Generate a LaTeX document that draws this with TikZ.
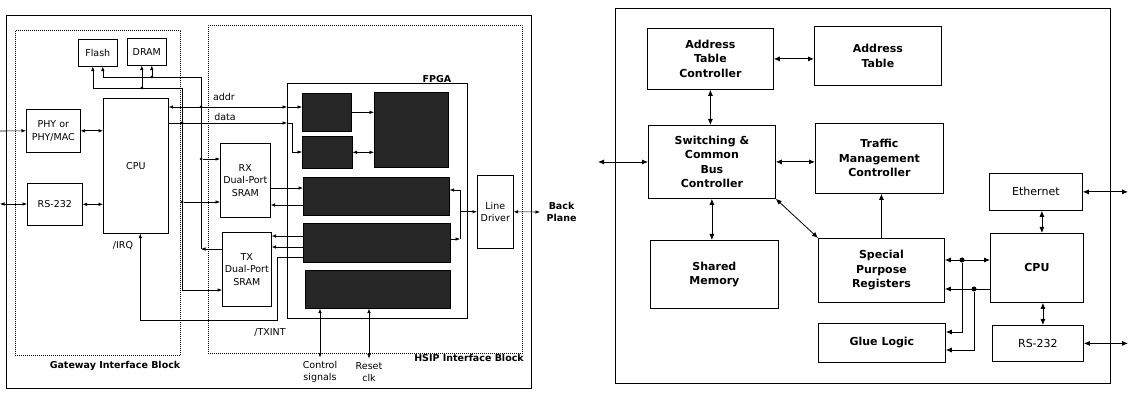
\documentclass[tikz,border=0pt]{standalone}
\usepackage{fontspec}
\setmainfont{DejaVu Sans}
\usetikzlibrary{arrows.meta}

\begin{document}
\begin{tikzpicture}[x=1pt, y=-1pt, line width=0.6pt,
        >={Latex[length=4.5pt,width=3.5pt]},
        frame/.style={draw, rectangle, anchor=north west, inner sep=0pt},
        dotframe/.style={frame, dash pattern=on 0.8pt off 1.2pt},
        box/.style={frame, align=center, font=\fontsize{9.5}{12.5}\selectfont},
        chip/.style={frame, fill=black!85},
        lbl/.style={align=center, font=\fontsize{9.5}{12.5}\selectfont},
        blbl/.style={align=center, font=\fontsize{9.5}{12.5}\selectfont\bfseries},
        bbox/.style={frame, align=center, line width=0.8pt, font=\fontsize{11}{14.5}\selectfont\bfseries},
        pbox/.style={bbox, font=\fontsize{11}{14.5}\selectfont},
        dot/.style={circle, fill, inner sep=0pt, minimum size=3pt}]
      \useasboundingbox (0,0) rectangle (1135,395);

      % Left board
      \node[frame, minimum width=525pt, minimum height=373pt] (boardL) at (6,15) {};
      \node[dotframe, minimum width=165pt, minimum height=325pt] (gw) at (15,30) {};
      \node[dotframe, minimum width=314pt, minimum height=328pt] (hsip) at (208,25) {};
      \node[blbl] (gwlbl) at (115,366) {Gateway Interface Block};
      \node[blbl] (hsiplbl) at (469,358) {HSIP Interface Block};

      % Gateway side
      \node[box, minimum width=39pt, minimum height=27pt] (flash) at (78,39) {Flash};
      \node[box, minimum width=39pt, minimum height=27pt] (dram) at (127,38) {DRAM};
      \node[box, minimum width=54pt, minimum height=43pt] (phy) at (26,109) {PHY or\\PHY/MAC};
      \node[box, minimum width=65pt, minimum height=135pt] (cpuL) at (103,98) {CPU};
      \node[box, minimum width=55pt, minimum height=42pt] (rsL) at (27,183) {RS-232};
      \node[lbl] (irq) at (123,246) {/IRQ};

      % HSIP side
      \node[box, minimum width=50pt, minimum height=74pt] (rx) at (220,143) {RX\\Dual-Port\\SRAM};
      \node[box, minimum width=49pt, minimum height=74pt] (tx) at (222,232) {TX\\Dual-Port\\SRAM};
      \node[frame, minimum width=180pt, minimum height=235pt] (fpga) at (287,83) {};
      \node[blbl, anchor=south] (fpgalbl) at (437,86) {FPGA};
      \node[chip, minimum width=49pt, minimum height=38pt] (blk1) at (302,93) {};
      \node[chip, minimum width=50pt, minimum height=32pt] (blk2) at (302,136) {};
      \node[chip, minimum width=74pt, minimum height=75pt] (big) at (374,92) {};
      \node[chip, minimum width=146pt, minimum height=38pt] (blkA) at (303,177) {};
      \node[chip, minimum width=147pt, minimum height=39pt] (blkB) at (303,223) {};
      \node[chip, minimum width=145pt, minimum height=38pt] (blkC) at (305,270) {};
      \node[box, minimum width=36pt, minimum height=73pt] (drv) at (477,175) {Line\\Driver};
      \node[blbl, anchor=west] (bp) at (543,212) {Back\\Plane};
      \node[lbl] (ctrl) at (320,372) {Control\\signals};
      \node[lbl] (rst) at (369,372) {Reset\\clk};
      \node[lbl] (addr) at (224,97) {addr};
      \node[lbl] (data) at (225,117) {data};
      \node[lbl] (txint) at (270,332) {/TXINT};

      \coordinate (phyIn) at (0,131);
      \coordinate (rsIn) at (0,204);
      \coordinate (busAtop) at (201,77);
      \coordinate (busAbot) at (201,249);
      \coordinate (busBtop) at (182,88);
      \coordinate (busBbot) at (182,290);
      \coordinate (fL) at ([xshift=-5pt]flash.south);
      \coordinate (fR) at ([xshift=5pt]flash.south);
      \coordinate (dL) at ([xshift=-5pt]dram.south);
      \coordinate (dR) at ([xshift=5pt]dram.south);
      \coordinate (addrY) at (0,107);
      \coordinate (dataY) at (0,123);
      \coordinate (dataBend) at (292,152);
      \coordinate (rxA) at (0,159);
      \coordinate (rxB) at (0,202);
      \coordinate (rxOut) at (0,188);
      \coordinate (rxIn) at (0,205);
      \coordinate (txA) at (0,236);
      \coordinate (txB) at (0,247);
      \coordinate (txintY) at (0,257);
      \coordinate (txintC) at (277,320);
      \coordinate (irqIn) at ([xshift=4.5pt]cpuL.south);
      \coordinate (ldTop) at (460,190);
      \coordinate (ldBot) at (460,239);
      \coordinate (bpEnd) at (540,212);

      % Gateway links
      \draw[->] (phyIn) -- (phy.west);
      \draw[<->] (rsIn) -- (rsIn -| rsL.west);
      \draw[<->] (phy.east) -- (phy.east -| cpuL.west);
      \draw[<->] (rsL.east) -- (rsL.east -| cpuL.west);
      \draw[->] (busAtop) -| (fR);
      \draw[->] (busAtop -| dR) -- (dR);
      \draw[->] (busBtop) -| (fL);
      \draw[->] (busBtop -| dL) -- (dL);
      \draw (busAtop) -- (busAbot);
      \draw (busBtop) -- (busBbot);
      \node[dot] (jdR) at (busAtop -| dR) {};
      \node[dot] (jdL) at (busBtop -| dL) {};
      \node[dot] (jaddr) at (busAtop |- addrY) {};
      \node[dot] (jdata) at (busBtop |- dataY) {};
      \node[dot] (jrxA) at (busAtop |- rxA) {};
      \node[dot] (jrxB) at (busBtop |- rxB) {};
      \draw[->] (jrxA) -- (rx.west |- rxA);
      \draw[->] (jrxB) -- (rx.west |- rxB);
      \draw[<-] (busAbot) -- (tx.west |- busAbot);
      \draw[->] (busBbot) -- (tx.west |- busBbot);

      % CPU to FPGA
      \draw[<->] (cpuL.east |- addrY) -- (fpga.west |- addrY);
      \draw[->] (fpga.west |- addrY) -- (blk1.west |- addrY);
      \draw[->] (cpuL.east |- dataY) -- (fpga.west |- dataY);
      \draw[->] (fpga.west |- dataY) -| (dataBend) -- (blk2.west |- dataBend);
      \draw[->] (blk1.east) -- (blk1.east -| big.west);
      \draw[<->] (blk2.east) -- (blk2.east -| big.west);

      % SRAMs
      \draw[->] (rx.east |- rxOut) -- (blkA.west |- rxOut);
      \draw[<-] (rx.east |- rxIn) -- (blkA.west |- rxIn);
      \draw[->] (blkB.west |- txA) -- (tx.east |- txA);
      \draw[->] (blkB.west |- txB) -- (tx.east |- txB);
      \draw[->] (blkB.west |- txintY) -| (txintC) -| (irqIn);

      % Line driver
      \draw (ldTop) -- (ldBot);
      \draw[->] (ldTop) -- (blkA.east |- ldTop);
      \draw[->] (blkB.east |- ldBot) -- (ldBot);
      \draw[->] (ldTop |- drv.west) -- (drv.west);
      \draw[<->] (drv.east) -- (bpEnd);
      \draw[<->] (ctrl |- blkC.south) -- (ctrl.north);
      \draw[<->] (rst |- blkC.south) -- (rst.north);

      % Right board
      \begin{scope}[line width=0.8pt, >={Latex[length=6pt,width=5pt]},
          dot/.style={circle, fill, inner sep=0pt, minimum size=5pt}]
        \node[frame, minimum width=495pt, minimum height=375pt] (boardR) at (615,8) {};
        \node[bbox, minimum width=126pt, minimum height=61pt] (atc) at (647,28) {Address\\Table\\Controller};
        \node[bbox, minimum width=127pt, minimum height=59pt] (atab) at (814,26) {Address\\Table};
        \node[bbox, minimum width=127pt, minimum height=73pt] (scbc) at (648,125) {Switching \&\\Common\\Bus\\Controller};
        \node[bbox, minimum width=128pt, minimum height=70pt] (tmc) at (815,123) {Traffic\\Management\\Controller};
        \node[bbox, minimum width=128pt, minimum height=68pt] (shm) at (650,240) {Shared\\Memory};
        \node[bbox, minimum width=126pt, minimum height=64pt] (spr) at (818,238) {Special\\Purpose\\Registers};
        \node[bbox, minimum width=127pt, minimum height=39pt] (glue) at (818,323) {Glue Logic};
        \node[pbox, minimum width=93pt, minimum height=37pt] (eth) at (989,173) {Ethernet};
        \node[bbox, minimum width=93pt, minimum height=69pt] (cpuR) at (990,233) {CPU};
        \node[pbox, minimum width=91pt, minimum height=36pt] (rsR) at (992,325) {RS-232};

        \coordinate (swIn) at (598,162);
        \coordinate (extR) at (1128,0);
        \coordinate (regA) at (0,260);
        \coordinate (regB) at (0,289);
        \coordinate (glueA) at (0,332);
        \coordinate (glueB) at (0,350);

        \draw[<->] (atc.east) -- (atc.east -| atab.west);
        \draw[<->] (atc.south) -- (atc.south |- scbc.north);
        \draw[<->] (swIn) -- (swIn -| scbc.west);
        \draw[<->] (scbc.east) -- (scbc.east -| tmc.west);
        \draw[<->] (scbc.south) -- (scbc.south |- shm.north);
        \draw[<->] (scbc.south east) -- (spr.north west);
        \draw[->] (spr.north) -- (spr.north |- tmc.south);
        \draw[<->] ([xshift=6pt]eth.south) -- ([xshift=6pt]eth.south |- cpuR.north);
        \draw[<->] ([xshift=6pt]cpuR.south) -- ([xshift=6pt]cpuR.south |- rsR.north);
        \draw[<->] (eth.east) -- (eth.east -| extR);
        \draw[<->] (rsR.east) -- (rsR.east -| extR);
        \draw[<->] (spr.east |- regA) -- (cpuR.west |- regA);
        \draw[->] (cpuR.west |- regB) -- (spr.east |- regB);
        \node[dot] (j1) at (962,260) {};
        \node[dot] (j2) at (974,289) {};
        \draw[->] (j1) |- (glue.east |- glueA);
        \draw[->] (j2) |- (glue.east |- glueB);
      \end{scope}
    \end{tikzpicture}
\end{document}
